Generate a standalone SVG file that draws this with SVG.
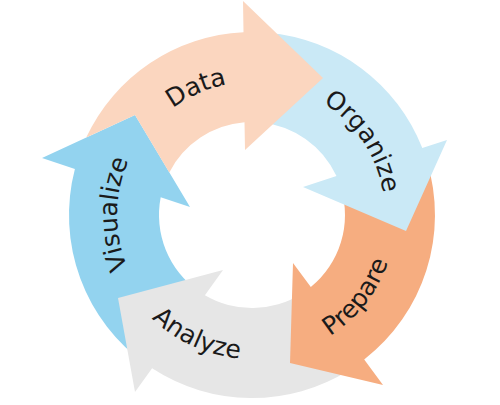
<svg xmlns="http://www.w3.org/2000/svg" xmlns:xlink="http://www.w3.org/1999/xlink" width="500" height="405" viewBox="0 0 500 405">
  <style>
    .lbl { font-family: "DejaVu Sans", "Liberation Sans", sans-serif; font-size: 25px; fill: #1a1a1a; }
  </style>
  <defs>
    <path id="pData" d="M 119.8,200.4 A 133 133 0 0 1 330.7,107.8"/>
    <path id="pOrg" d="M 243.6,82.3 A 133 133 0 0 1 371.1,274.1"/>
    <path id="pPrep" d="M 231.7,357.6 A 144 144 0 0 0 385.6,161.3"/>
    <path id="pAna" d="M 108.7,228.8 A 144 144 0 0 0 335.6,332.2"/>
    <path id="pVis" d="M 183.7,331.4 A 135 135 0 0 1 185.3,97.6"/>
  </defs>
  <rect width="500" height="405" fill="#ffffff"/>
  <g id="connectors"></g>
  <g id="visualize">
    <path d="M 147,364.9 A 183 183 0 0 1 74.9,168.9 L 42,158 L 135,115 L 190,207 L 160.7,197.3 A 93 93 0 0 0 198.7,291.2 Z" fill="#93d3ef"/>
    <text class="lbl"><textPath xlink:href="#pVis" href="#pVis" startOffset="50%" text-anchor="middle">Visualize</textPath></text>
  </g>
  <g id="analyze">
    <path d="M 349,370.2 A 183 183 0 0 1 152.1,368.3 L 135,392 L 118,298 L 223,270 L 204.9,295.2 A 93 93 0 0 0 301.3,293.9 Z" fill="#e6e6e6"/>
    <text class="lbl"><textPath xlink:href="#pAna" href="#pAna" startOffset="50%" text-anchor="middle">Analyze</textPath></text>
  </g>
  <g id="prepare">
    <path d="M 427,161.5 A 183 183 0 0 1 364.2,359.5 L 383,385 L 290,363 L 293,263 L 310.8,287.1 A 93 93 0 0 0 340.9,187.8 Z" fill="#f6ad80"/>
    <text class="lbl"><textPath xlink:href="#pPrep" href="#pPrep" startOffset="50%" text-anchor="middle">Prepare</textPath></text>
  </g>
  <g id="organize">
    <path d="M 267.9,32.7 A 183 183 0 0 1 422.3,148.1 L 447,140 L 406,231 L 303,187 L 336.5,176.1 A 93 93 0 0 0 260.1,122.4 Z" fill="#cae9f6"/>
    <text class="lbl"><textPath xlink:href="#pOrg" href="#pOrg" startOffset="50%" text-anchor="middle">Organize</textPath></text>
  </g>
  <g id="data">
    <path d="M 86.2,137.6 A 183 183 0 0 1 243.5,32.2 L 243,1 L 323,78 L 245,150 L 244.5,122.3 A 93 93 0 0 0 169.3,172.4 L 135,115 Z" fill="#fbd6bf"/>
    <text class="lbl"><textPath xlink:href="#pData" href="#pData" startOffset="50%" text-anchor="middle">Data</textPath></text>
  </g>
</svg>
